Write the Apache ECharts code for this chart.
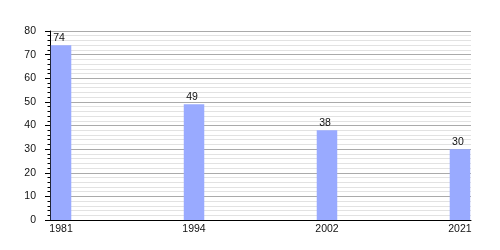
<!DOCTYPE html>
<html>
<head>
<meta charset="utf-8">
<script src="https://cdn.jsdelivr.net/npm/echarts@6/dist/echarts.min.js"></script>
<style>html,body{margin:0;padding:0;background:#fff}#c{width:500px;height:250px}</style>
</head>
<body>
<div id="c"></div>
<script>
const years = ['1981', '1994', '2002', '2021'];
const values = [74, 49, 38, 30];
const yTicks = [0, 10, 20, 30, 40, 50, 60, 70, 80];

const chart = echarts.init(document.getElementById('c'), null, {renderer: 'canvas'});
const font = 'Liberation Sans, Arial, sans-serif';
chart.setOption({
  animation: false,
  grid: {left: 50, right: 29, top: 31, bottom: 30},
  xAxis: {
    type: 'value',
    min: -0.083,
    max: 3.083,
    splitLine: {show: false},
    axisTick: {show: false},
    axisLine: {show: true, onZero: false, lineStyle: {color: '#000', width: 1}},
    axisLabel: {
      customValues: years.map((_, i) => i),
      formatter: v => years[Math.round(v)],
      color: '#111', fontSize: 10.5, fontFamily: font, margin: 4
    }
  },
  yAxis: {
    type: 'value',
    min: yTicks[0],
    max: yTicks[yTicks.length - 1],
    interval: 10,
    axisLine: {show: true, onZero: false, lineStyle: {color: '#000'}},
    axisTick: {show: true, length: 5, lineStyle: {color: '#000'}},
    minorTick: {show: true, splitNumber: 5, length: 2.5, lineStyle: {color: '#000'}},
    splitLine: {show: true, lineStyle: {color: '#aaaaaa', width: 1}},
    minorSplitLine: {show: true, lineStyle: {color: '#e2e2e2', width: 1}},
    axisLabel: {color: '#111', fontSize: 10.5, fontFamily: font, margin: 14}
  },
  series: [{
    type: 'bar',
    barWidth: 20.5,
    data: values.map((v, i) => [i, v]),
    itemStyle: {color: '#99aaff'},
    label: {
      show: true, position: 'top', distance: 2,
      color: '#111', fontSize: 10.5, fontFamily: font, offset: [-2, 0]
    }
  }]
});
</script>
</body>
</html>
